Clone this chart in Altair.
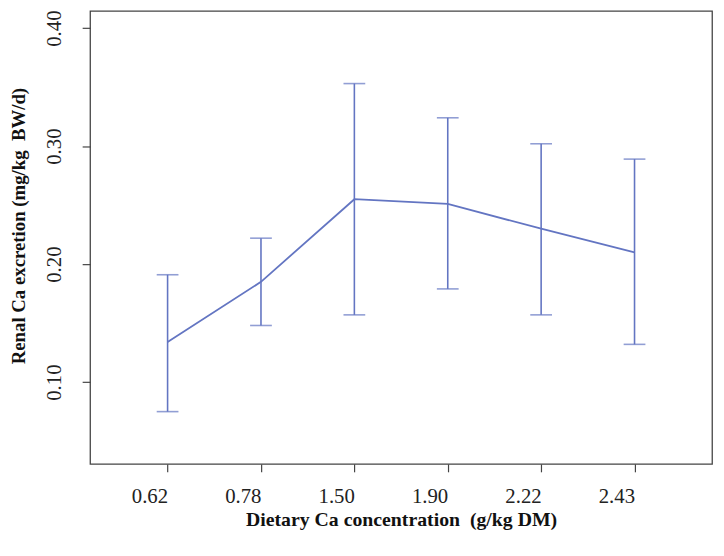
import altair as alt
import pandas as pd

categories = ["0.62", "0.78", "1.50", "1.90", "2.22", "2.43"]
means = [0.134, 0.185, 0.255, 0.251, 0.230, 0.210]
upper = [0.191, 0.222, 0.353, 0.324, 0.302, 0.289]
lower = [0.075, 0.148, 0.157, 0.179, 0.157, 0.132]
y_ticks = [0.10, 0.20, 0.30, 0.40]

df = pd.DataFrame({"cat": categories, "mean": means, "upper": upper, "lower": lower})

BLUE = "#6375c2"
FONT = "Liberation Serif"

x_enc = alt.X(
    "cat:O",
    sort=categories,
    scale=alt.Scale(type="point", padding=0.83),
    axis=alt.Axis(
        title="Dietary Ca concentration\u00a0\u00a0(g/kg DM)",
        labelAngle=0,
        labelFont=FONT, labelFontSize=21, labelColor="#222",
        labelPadding=25,
        titleFont=FONT, titleFontSize=20, titleFontWeight="bold", titleColor="#111",
        titlePadding=3,
        tickSize=8, tickColor="#444", tickWidth=1.2,
        domain=False, grid=False,
    ),
)
y_scale = alt.Scale(domain=[0.0307, 0.4145], nice=False, zero=False)
y_axis = alt.Axis(
    title="Renal Ca excretion (mg/kg\u00a0\u00a0BW/d)",
    titleY=217,
    values=y_ticks, format=".2f",
    labelAngle=-90, labelAlign="center", labelBaseline="alphabetic",
    labelFont=FONT, labelFontSize=21, labelColor="#222",
    labelPadding=22,
    titleFont=FONT, titleFontSize=19, titleFontWeight="bold", titleColor="#111",
    titlePadding=15,
    tickSize=8, tickColor="#444", tickWidth=1.2,
    domain=False, grid=False,
)

base = alt.Chart(df)

line = base.mark_line(color=BLUE, strokeWidth=1.8).encode(
    x=x_enc,
    y=alt.Y("mean:Q", scale=y_scale, axis=y_axis),
)
rules = base.mark_rule(color=BLUE, strokeWidth=1.6).encode(
    x=alt.X("cat:O", sort=categories),
    y=alt.Y("lower:Q"),
    y2="upper:Q",
)
cap_hi = base.mark_tick(color=BLUE, thickness=1.6, size=22, orient="horizontal").encode(
    x=alt.X("cat:O", sort=categories),
    y=alt.Y("upper:Q"),
)
cap_lo = base.mark_tick(color=BLUE, thickness=1.6, size=22, orient="horizontal").encode(
    x=alt.X("cat:O", sort=categories),
    y=alt.Y("lower:Q"),
)

chart = (
    alt.layer(rules, cap_hi, cap_lo, line)
    .properties(
        width=629,
        height=458,
        autosize=alt.AutoSizeParams(type="none"),
        padding={"left": 83, "top": 0, "right": 4, "bottom": 82},
        background="white",
    )
    .configure_view(stroke="#444", strokeWidth=1.3)
)

chart.save("out.html", embed_options={"renderer": "svg", "actions": False})
